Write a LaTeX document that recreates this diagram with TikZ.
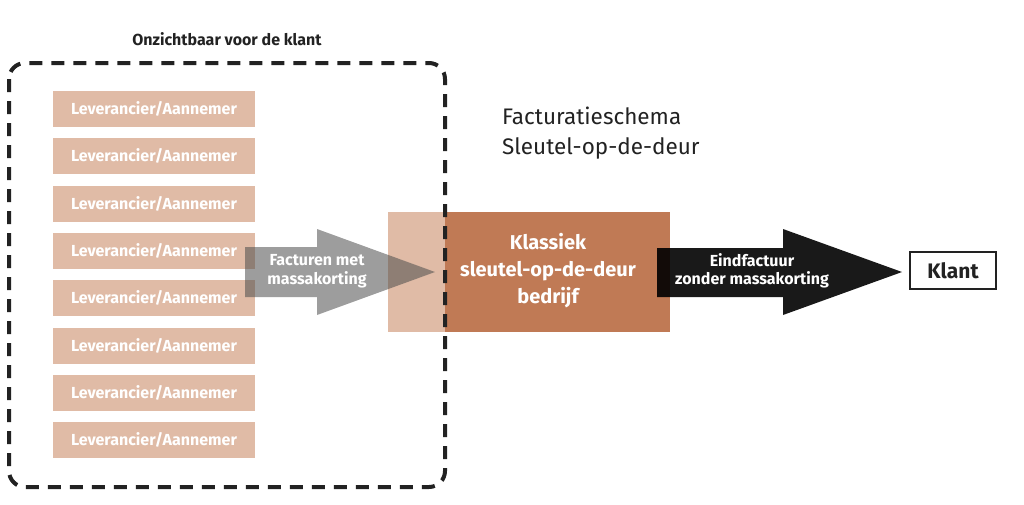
\documentclass[tikz,border=0pt]{standalone}
\usepackage{fontspec}
\setmainfont{Fira Sans}
\definecolor{boxlight}{HTML}{E0BBA6}
\definecolor{boxdark}{HTML}{C07A55}
\definecolor{txtdark}{HTML}{222222}
\begin{document}
\begin{tikzpicture}[x=1pt,y=-1pt,
  supplier/.style={fill=boxlight, text=white, minimum width=202pt, minimum height=36pt, inner sep=0pt, font=\bfseries\fontsize{16}{19}\selectfont},
  arrowlabel/.style={text=white, align=center, inner sep=0pt, font=\bfseries\fontsize{16}{18.5}\selectfont},
  graybody/.style={fill=black!70, fill opacity=0.55, draw=none},
  blackbody/.style={fill=black, fill opacity=0.9, draw=none},
  dashbox/.style={draw=txtdark, line width=4pt, dash pattern=on 13pt off 9pt, rounded corners=16pt},
  clientbox/.style={draw=txtdark, line width=2pt, minimum width=86pt, minimum height=37pt, inner sep=0pt, text=txtdark, font=\bfseries\fontsize{21}{24}\selectfont}]
\useasboundingbox (0,0) rectangle (1024,504);
% suppliers
\foreach \i in {0,...,7}{
  \node[supplier] (s\i) at (154,{109+\i*47.3}) {Leverancier/Aannemer};
}
% company box
\node[fill=boxdark, minimum width=282pt, minimum height=120pt, inner sep=0pt] (comp) at (529,272) {};
\fill[boxlight] (comp.north west) rectangle (445,332);
\node[text=white, align=center, inner sep=0pt, font=\bfseries\fontsize{20}{27}\selectfont] (comptxt) at (548,271) {Klassiek\\sleutel-op-de-deur\\bedrijf};
% gray arrow
\path[graybody] (245,247) -- (317,247) -- (317,229) -- (435,272) -- (317,315) -- (317,297) -- (245,297) -- cycle;
\node[arrowlabel] (galabel) at (317,271) {Facturen met\\massakorting};
% black arrow
\path[blackbody] (657,248) -- (783,248) -- (783,229) -- (902,272) -- (783,315) -- (783,297) -- (657,297) -- cycle;
\node[arrowlabel] (balabel) at (752,271) {Eindfactuur\\zonder massakorting};
% client
\node[clientbox] (klant) at (953,270.5) {Klant};
% titles
\node[text=txtdark, inner sep=0pt, font=\bfseries\fontsize{16}{19}\selectfont] (t1) at (227,39) {Onzichtbaar voor de klant};
\node[text=txtdark, align=left, anchor=west, inner sep=0pt, font=\fontsize{22.5}{30}\selectfont] (t2) at (502,133) {Facturatieschema\\Sleutel-op-de-deur};
% dashed region
\draw[dashbox] (9,63) rectangle (445,487);
\end{tikzpicture}
\end{document}
